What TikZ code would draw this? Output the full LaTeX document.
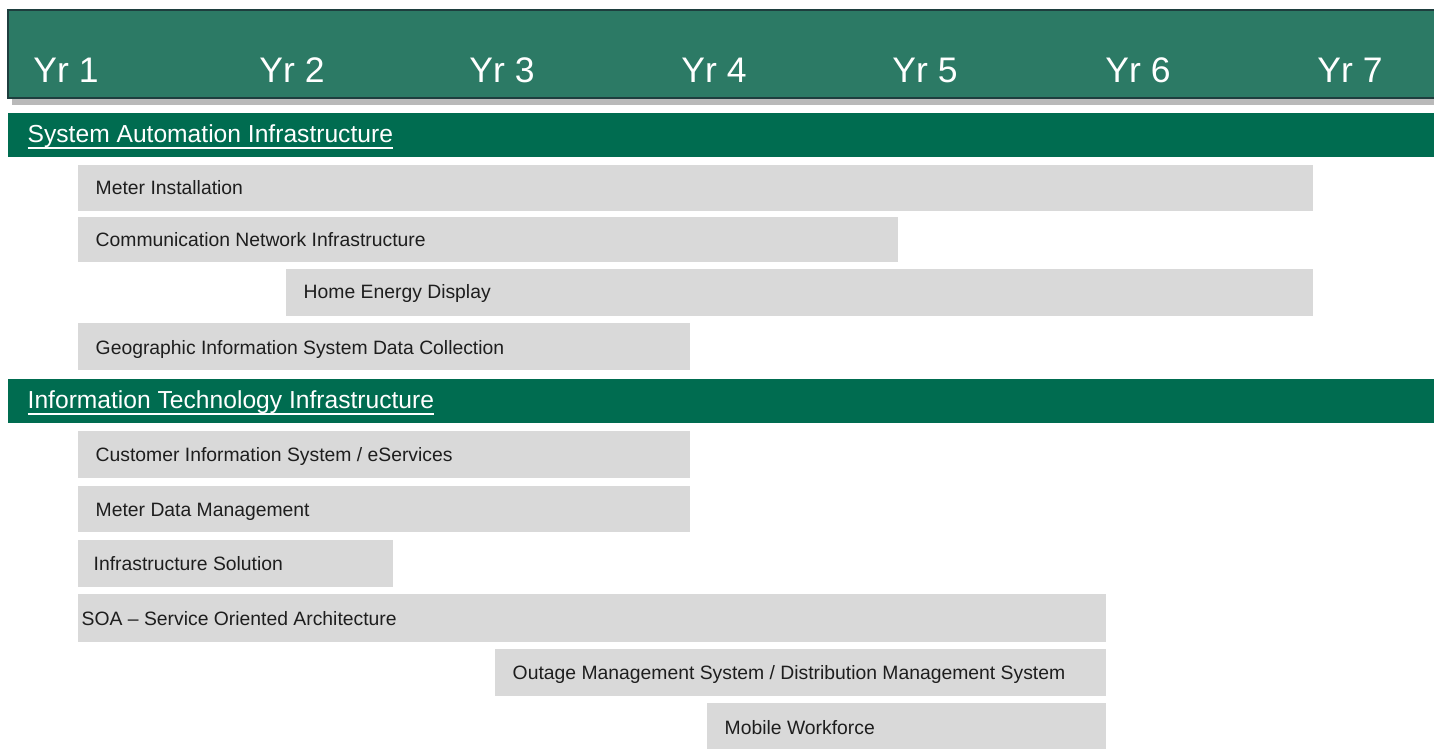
\documentclass[tikz,border=0pt]{standalone}
\usepackage{fontspec}
\setmainfont{Liberation Sans}

\definecolor{hdrgreen}{RGB}{44,122,101}
\definecolor{hdrline}{RGB}{30,62,62}
\definecolor{secgreen}{RGB}{0,108,80}
\definecolor{bargray}{RGB}{217,217,217}
\definecolor{bartext}{RGB}{30,30,30}

\tikzset{
  yr/.style={anchor=base, inner sep=0pt, text=white, font=\fontsize{10.1pt}{12pt}\selectfont},
  sec/.style={anchor=base west, inner sep=0pt, text=white, font=\fontsize{7pt}{8pt}\selectfont},
  task/.style={anchor=base west, inner sep=0pt, text=bartext, font=\fontsize{5.5pt}{6.5pt}\selectfont},
}

\begin{document}
\begin{tikzpicture}[x=0.01cm,y=-0.01cm]
\useasboundingbox (0,0) rectangle (1434,749);

% year header
\fill[gray!55] (12,98) rectangle (1440,105);
\draw[hdrline, fill=hdrgreen, line width=0.8pt] (8,10) rectangle (1440,98);
\node[yr] (yr1) at (66,83) {Yr 1};
\node[yr] (yr2) at (292,83) {Yr 2};
\node[yr] (yr3) at (502,83) {Yr 3};
\node[yr] (yr4) at (714,83) {Yr 4};
\node[yr] (yr5) at (925,83) {Yr 5};
\node[yr] (yr6) at (1138,83) {Yr 6};
\node[yr] (yr7) at (1350,83) {Yr 7};

% first group
\fill[secgreen] (8,113) rectangle (1434,157);
\node[sec] (sai) at (27,143) {\underline{\smash{System Automation Infrastructure}}};

\fill[bargray] (78,165) rectangle (1313,211);
\node[task] (meter) at (95,195) {Meter Installation};
\fill[bargray] (78,217) rectangle (898,262);
\node[task] (comm) at (95,247) {Communication Network Infrastructure};
\fill[bargray] (286,269) rectangle (1313,316);
\node[task] (home) at (303,299) {Home Energy Display};
\fill[bargray] (78,323) rectangle (690,370);
\node[task] (gis) at (95,354) {Geographic Information System Data Collection};

% second group
\fill[secgreen] (8,379) rectangle (1434,423);
\node[sec] (iti) at (27,409) {\underline{\smash{Information Technology Infrastructure}}};

\fill[bargray] (78,431) rectangle (690,478);
\node[task] (cis) at (95,461) {Customer Information System / eServices};
\fill[bargray] (78,486) rectangle (690,532);
\node[task] (mdm) at (95,516) {Meter Data Management};
\fill[bargray] (78,540) rectangle (393,587);
\node[task] (infra) at (93,570) {Infrastructure Solution};
\fill[bargray] (78,594) rectangle (1106,642);
\node[task] (soa) at (81,625) {SOA -- Service Oriented Architecture};
\fill[bargray] (495,649) rectangle (1106,696);
\node[task] (oms) at (512,679) {Outage Management System / Distribution Management System};
\fill[bargray] (707,703) rectangle (1106,749);
\node[task] (mobile) at (724,734) {Mobile Workforce};

\end{tikzpicture}
\end{document}
